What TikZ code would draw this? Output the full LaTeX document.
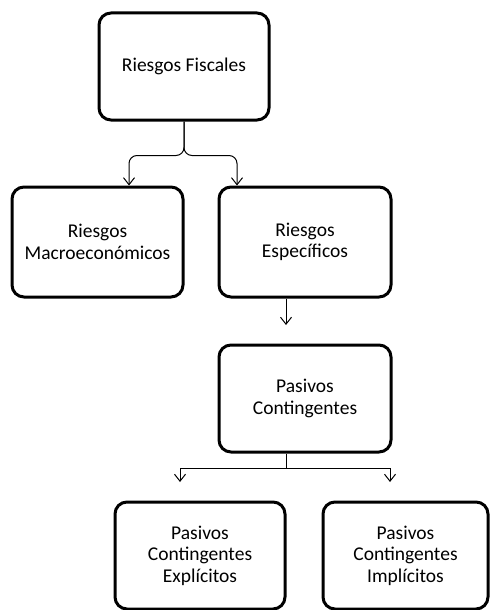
\documentclass[tikz,border=0pt]{standalone}
\usepackage{fontspec}
\setmainfont{Carlito}
\usetikzlibrary{arrows.meta}

\begin{document}
\begin{tikzpicture}[
        x=1pt, y=-1pt,
        box/.style={draw, line width=3pt, rounded corners=12pt, align=center,
            minimum width=170pt, minimum height=107pt, inner sep=2pt,
            font=\fontsize{19.5}{21.5}\selectfont},
        conn/.style={line width=1pt, -{Straight Barb[length=7pt,width=11pt]}}
    ]
    \useasboundingbox (0,0) rectangle (490,610);
    \node[box] (Fiscales) at (184,66.5) {Riesgos Fiscales};
    \node[box, minimum width=171pt, minimum height=110pt] (Macro) at (97.5,242) {Riesgos\\Macroecon\'omicos};
    \node[box, minimum width=172pt, minimum height=110pt] (Especificos) at (305,242) {Riesgos\\Espec\'ificos};
    \node[box, minimum width=172pt] (Pasivos) at (305,398.5) {Pasivos\\Contingentes};
    \node[box, minimum height=107pt] (Explicitos) at (200,555.5) {Pasivos\\Contingentes\\Expl\'icitos};
    \node[box, minimum width=165pt, minimum height=107pt] (Implicitos) at (405.5,555.5) {Pasivos\\Contingentes\\Impl\'icitos};
    % free ends of the connectors
    \coordinate (EspTip) at (286,325);
    \coordinate (Junta) at (286,468);
    \coordinate (ExpTip) at (180,482);
    \coordinate (ImpTip) at (390,482);
    \draw[conn, rounded corners=8pt] (Fiscales.south) -- ++(0,34) -| ([xshift=31.5pt]Macro.north);
    \draw[conn, rounded corners=8pt] (Fiscales.south) -- ++(0,34) -| ([xshift=-68pt]Especificos.north);
    \draw[conn] (EspTip |- Especificos.south) -- (EspTip);
    \draw[line width=1pt] (Junta |- Pasivos.south) -- (Junta);
    \draw[conn] (Junta) -| (ExpTip);
    \draw[conn] (Junta) -| (ImpTip);
\end{tikzpicture}
\end{document}
